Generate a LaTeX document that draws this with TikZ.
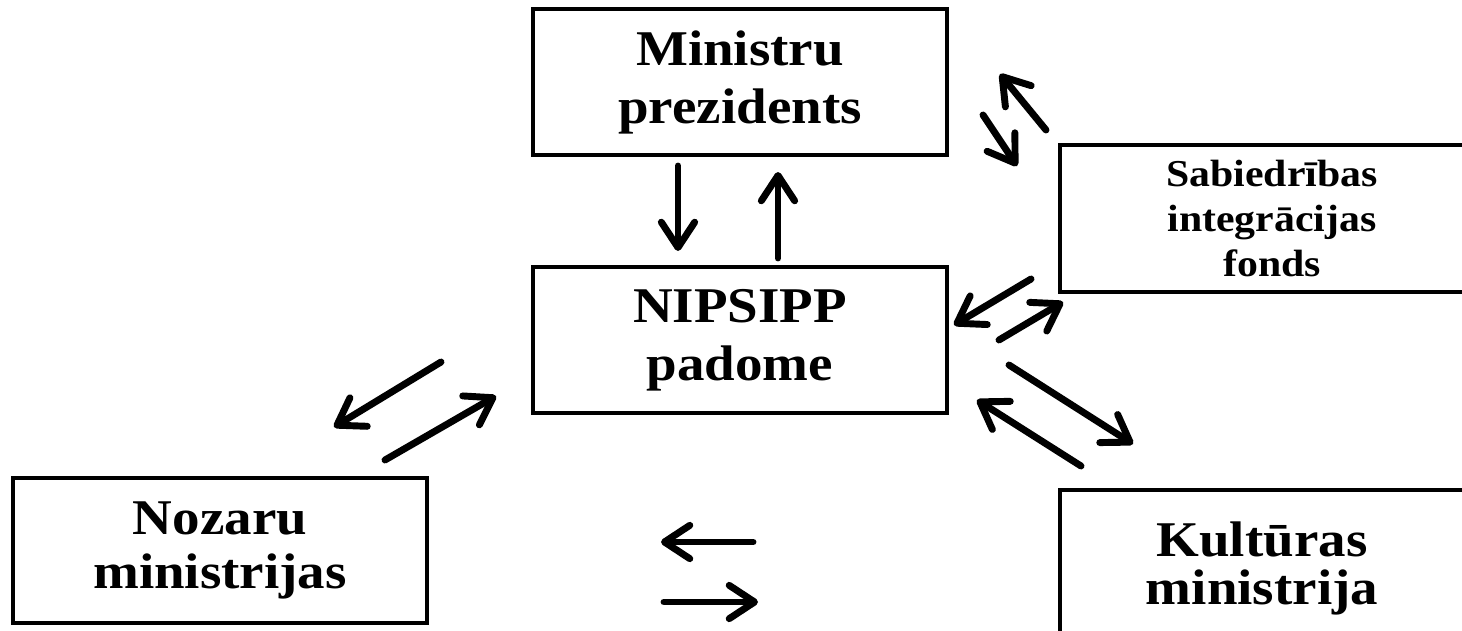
\documentclass[tikz,border=0pt]{standalone}
\usepackage{fontspec}
\setmainfont[FakeStretch=1.1]{Liberation Serif}
\usetikzlibrary{arrows.meta}
\newcommand{\boxline}{3.4pt}
\newcommand{\arrline}{5.2pt}
\tikzset{
  box/.style={draw, line width=\boxline, rectangle, align=center, inner sep=0pt, font=\bfseries\fontsize{37.5}{43.5}\selectfont},
  arr/.style={line width=\arrline, line cap=round, -{Straight Barb[length=19pt, width=25pt, line cap=round, line join=round]}}
}

\begin{document}
\begin{tikzpicture}[x=0.75pt, y=-0.75pt]
\useasboundingbox (0,0) rectangle (1462,631);
\clip (0,0) rectangle (1462,631);
\node[box, minimum width=310.5pt, minimum height=109.5pt] (mp) at (740,82) {Ministru\\prezidents};
\node[box, minimum width=310.5pt, minimum height=109.5pt] (np) at (740,340) {NIPSIPP\\padome};
\node[box, minimum width=318pt, minimum height=110.25pt, font=\bfseries\fontsize{28.5}{34}\selectfont] (sf) at (1272,218.5) {Sabiedrības\\integrācijas\\fonds};
\node[box, minimum width=310.5pt, minimum height=108.75pt, font=\bfseries\fontsize{37.5}{41}\selectfont] (nm) at (220,550.5) {Nozaru\\ministrijas};
\node[box, minimum width=303pt, minimum height=117pt, font=\bfseries\fontsize{37.5}{36}\selectfont] (km) at (1262,568) {Kultūras\\ministrija};
% arrow ends
\coordinate (mpdowns) at (678,166);
\coordinate (mpdowne) at (678,251);
\coordinate (mpups) at (778,258);
\coordinate (mpupe) at (778,172);
\coordinate (tops) at (1046,130);
\coordinate (tope) at (1000,74);
\coordinate (tos) at (983,115);
\coordinate (toe) at (1017,166);
\coordinate (sfins) at (1031,279);
\coordinate (sfine) at (954,325);
\coordinate (sfouts) at (999,340);
\coordinate (sfoute) at (1063,302);
\coordinate (kmouts) at (1009,365);
\coordinate (kmoute) at (1133,444);
\coordinate (kmins) at (1081,466);
\coordinate (kmine) at (977,400);
\coordinate (nmouts) at (441,362);
\coordinate (nmoute) at (334,427);
\coordinate (nmins) at (385,460);
\coordinate (nmine) at (496,396);
\coordinate (lefts) at (753,542);
\coordinate (lefte) at (661,542);
\coordinate (rights) at (664,602);
\coordinate (righte) at (758,602);
% arrows
\draw[arr] (mpdowns) -- (mpdowne);
\draw[arr] (mpups) -- (mpupe);
\draw[arr] (tops) -- (tope);
\draw[arr] (tos) -- (toe);
\draw[arr] (sfins) -- (sfine);
\draw[arr] (sfouts) -- (sfoute);
\draw[arr] (kmouts) -- (kmoute);
\draw[arr] (kmins) -- (kmine);
\draw[arr] (nmouts) -- (nmoute);
\draw[arr] (nmins) -- (nmine);
\draw[arr] (lefts) -- (lefte);
\draw[arr] (rights) -- (righte);
\end{tikzpicture}
\end{document}
